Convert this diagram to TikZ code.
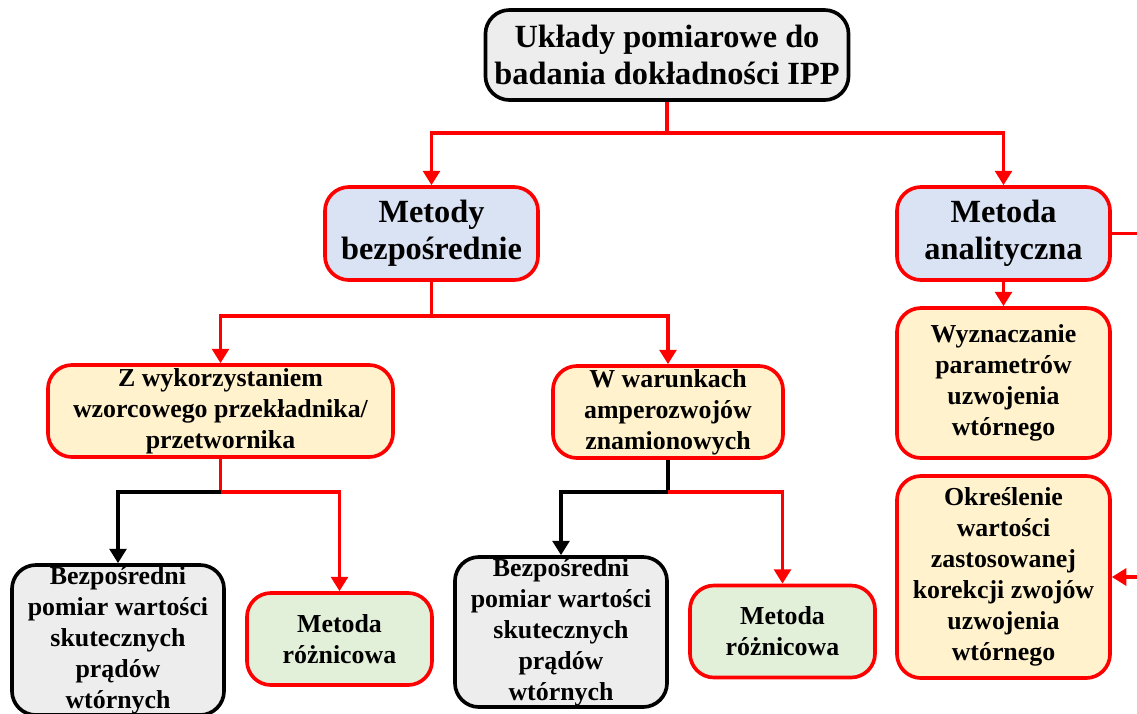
\documentclass[tikz,border=0pt]{standalone}
\usepackage{fontspec}
\setmainfont{Liberation Serif}
\usetikzlibrary{arrows.meta}
\definecolor{boxgray}{HTML}{EDEDED}
\definecolor{boxblue}{HTML}{DAE3F3}
\definecolor{boxorange}{HTML}{FFF2CC}
\definecolor{boxgreen}{HTML}{E2F0D9}
\tikzset{
box/.style={shape=rectangle, rounded corners=0.6cm, line width=2.6pt, inner sep=0pt, align=center,
  font=\bfseries\fontsize{18.4}{22}\selectfont},
big/.style={font=\bfseries\fontsize{23}{26.3}\selectfont},
conn/.style={line width=2.5pt, red},
blk/.style={line width=2.5pt, black},
tip/.style={-{Triangle[width=0.42cm,length=0.36cm]}}
}

\begin{document}
\begin{tikzpicture}[x=0.025cm, y=-0.025cm]
    \useasboundingbox (0,0) rectangle (1137,713);

                \node[box, big, draw=black, fill=boxgray, minimum width=9.075cm, minimum height=2.25cm] (T) at (667,55) {Układy pomiarowe do\\badania dokładności IPP};
                \node[box, big, draw=red, fill=boxblue, minimum width=5.325cm, minimum height=2.325cm] (MB) at (431.5,233.5) {Metody\\bezpośrednie};
                \node[box, big, draw=red, fill=boxblue, minimum width=5.325cm, minimum height=2.325cm] (MA) at (1003.5,233.5) {Metoda\\analityczna};
                \node[box, draw=red, fill=boxorange, minimum width=8.625cm, minimum height=2.3cm] (ZW) at (220.5,411) {Z wykorzystaniem\\wzorcowego przekładnika/\\przetwornika};
                \node[box, draw=red, fill=boxorange, minimum width=5.75cm, minimum height=2.3cm] (WW) at (668,412) {W warunkach\\amperozwojów\\znamionowych};
                \node[box, draw=red, fill=boxorange, minimum width=5.325cm, minimum height=3.75cm] (WY) at (1003.5,383) {Wyznaczanie\\parametrów\\uzwojenia\\wtórnego};
                \node[box, draw=red, fill=boxorange, minimum width=5.325cm, minimum height=5.05cm] (OK) at (1003.5,577) {Określenie\\wartości\\zastosowanej\\korekcji zwojów\\uzwojenia\\wtórnego};
                \node[box, draw=black, fill=boxgray, minimum width=5.3cm, minimum height=3.75cm] (BP1) at (118,640) {Bezpośredni\\pomiar wartości\\skutecznych\\prądów\\wtórnych};
                \node[box, draw=red, fill=boxgreen, minimum width=4.625cm, minimum height=2.3cm] (MR1) at (339.5,639) {Metoda\\różnicowa};
                \node[box, draw=black, fill=boxgray, minimum width=5.3cm, minimum height=3.75cm] (BP2) at (561,632) {Bezpośredni\\pomiar wartości\\skutecznych\\prądów\\wtórnych};
                \node[box, draw=red, fill=boxgreen, minimum width=4.625cm, minimum height=2.3cm] (MR2) at (782.5,631.5) {Metoda\\różnicowa};

                % branch points
                \coordinate (J1) at (667,133);
                \coordinate (J2) at (431.5,316);
                \coordinate (J3) at (220.5,492);
                \coordinate (J4) at (668,492);
                \coordinate (R) at (1160,577);

                \draw[conn] (T) -- (J1);
                \draw[conn,tip] (J1) -| (MB);
                \draw[conn,tip] (J1) -| (MA);
                \draw[conn] (MB) -- (J2);
                \draw[conn,tip] (J2) -| (ZW);
                \draw[conn,tip] (J2) -| (WW);
                \draw[conn,tip] (MA) -- (WY);
                \draw[conn,tip] (MA.east) -| (R) -- (OK.east);
                \draw[conn] (ZW) -- (J3);
                \draw[blk,tip] (J3) -| (BP1);
                \draw[conn,tip] (J3) -| (MR1);
                \draw[blk] (WW) -- (J4);
                \draw[blk,tip] (J4) -| (BP2);
                \draw[conn,tip] (J4) -| (MR2);

\end{tikzpicture}
\end{document}
